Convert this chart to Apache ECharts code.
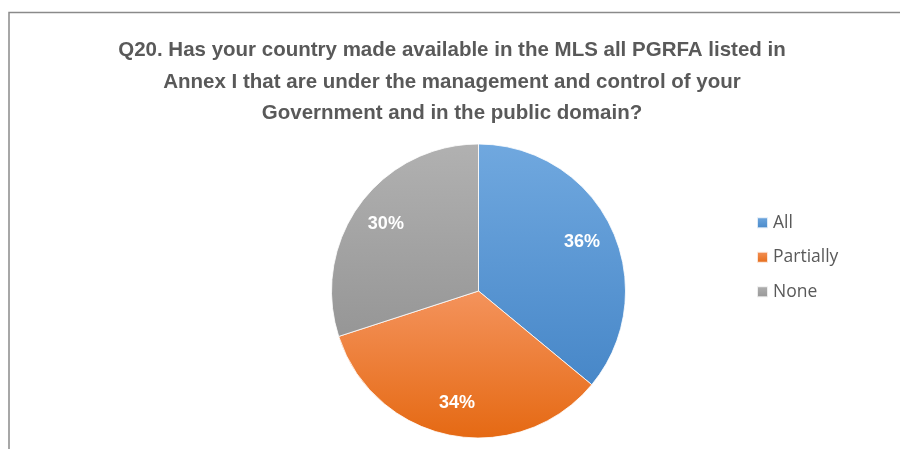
<!DOCTYPE html>
<html>
<head>
<meta charset="utf-8">
<script src="https://cdn.jsdelivr.net/npm/echarts@6/dist/echarts.min.js"></script>
<style>
  html, body { margin: 0; padding: 0; background: #fff; }
  #chart { width: 900px; height: 449px; }
</style>
</head>
<body>
<div id="chart"></div>
<script>
// Survey answers and their shares (percent)
const categories = ['All', 'Partially', 'None'];
const shares = [36, 34, 30];
const titleLines = [
  'Q20. Has your country made available in the MLS all PGRFA listed in',
  'Annex I that are under the management and control of your',
  'Government and in the public domain?'
];

// Vertical gradient per slice: lighter at top, darker at bottom
const sliceGradients = [
  ['#70A8DF', '#4787C8'],
  ['#F4935C', '#E56913'],
  ['#B1B1B1', '#969696']
];

function grad(pair) {
  return new echarts.graphic.LinearGradient(0, 0, 0, 1, [
    { offset: 0, color: pair[0] },
    { offset: 1, color: pair[1] }
  ]);
}

const pieData = categories.map((name, i) => ({
  name: name,
  value: shares[i],
  itemStyle: { color: grad(sliceGradients[i]) }
}));

const labelData = categories.map((name, i) => ({ name: name, value: shares[i] }));

const chart = echarts.init(document.getElementById('chart'), null, { renderer: 'canvas' });

chart.setOption({
  backgroundColor: '#ffffff',
  animation: false,
  title: {
    text: titleLines.join('\n'),
    left: 447,
    top: 30,
    textAlign: 'center',
    textStyle: {
      fontFamily: 'Liberation Sans',
      fontWeight: 'bold',
      fontSize: 20.5,
      lineHeight: 31.5,
      color: '#595959'
    }
  },
  legend: {
    orient: 'vertical',
    left: 756,
    top: 211,
    padding: 0,
    itemWidth: 11,
    itemHeight: 11,
    itemGap: 11,
    icon: 'rect',
    data: categories.map((name, i) => ({ name: name, itemStyle: { color: grad(sliceGradients[i]) } })),
    textStyle: {
      fontFamily: 'Open Sans',
      fontSize: 17.5,
      lineHeight: 23.5,
      color: '#595959',
      padding: [0, 0, 0, 0]
    }
  },
  graphic: [
    {
      type: 'polyline',
      silent: true,
      shape: { points: [[9, 449], [9, 12.5], [900, 12.5]] },
      style: { stroke: '#8a8a8a', lineWidth: 1.5, fill: null }
    }
  ],
  series: [
    {
      type: 'pie',
      center: [478.5, 291],
      radius: [0, 147],
      startAngle: 90,
      clockwise: true,
      data: pieData,
      label: { show: false },
      labelLine: { show: false },
      itemStyle: { borderColor: 'rgba(255,255,255,0.8)', borderWidth: 1 },
      emphasis: { disabled: true }
    },
    {
      // transparent ring used only to place the percentage labels
      type: 'pie',
      center: [478.5, 291],
      radius: [76, 147],
      startAngle: 90,
      clockwise: true,
      silent: true,
      data: labelData,
      itemStyle: { color: 'rgba(0,0,0,0)' },
      label: {
        show: true,
        position: 'inside',
        formatter: '{c}%',
        color: '#ffffff',
        fontFamily: 'Liberation Sans',
        fontWeight: 'bold',
        fontSize: 18
      },
      labelLine: { show: false },
      emphasis: { disabled: true }
    }
  ]
});
</script>
</body>
</html>
